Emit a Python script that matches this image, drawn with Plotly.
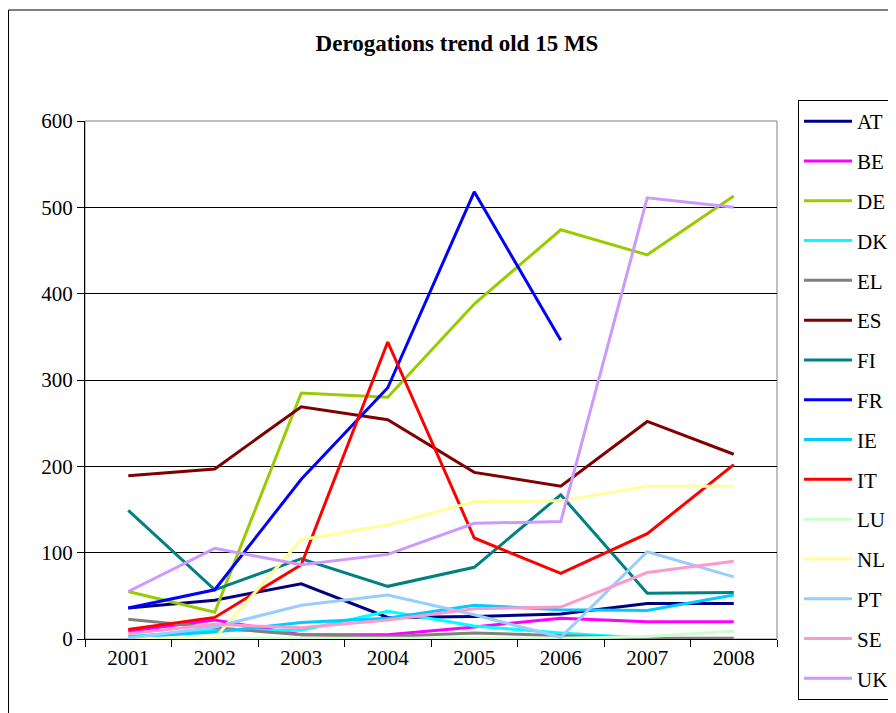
import plotly.graph_objects as go

years = ["2001", "2002", "2003", "2004", "2005", "2006", "2007", "2008"]

AT = [36, 45, 64, 25, 26, 29, 41, 41]
BE = [9, 22, 5, 5, 14, 24, 20, 20]
DE = [55, 31, 285, 280, 388, 474, 445, 513]
DK = [3, 10, 10, 32, 15, 7, 1, 0]
EL = [23, 13, 5, 3, 7, 4, 1, 1]
ES = [189, 197, 269, 254, 193, 177, 252, 214]
FI = [149, 57, 93, 61, 83, 167, 53, 54]
FR = [36, 57, 185, 291, 518, 346, None, None]
IE = [2, 8, 19, 24, 39, 34, 33, 51]
IT = [11, 25, 86, 344, 117, 76, 122, 202]
LU = [1, 1, 1, 1, 1, 1, 3, 9]
NL = [0, 1, 115, 132, 159, 160, 177, 177]
PT = [1, 14, 39, 51, 28, 2, 101, 72]
SE = [6, 17, 13, 22, 35, 37, 77, 90]
UK = [55, 105, 86, 98, 134, 136, 511, 500]

series_names = ["AT", "BE", "DE", "DK", "EL", "ES", "FI", "FR", "IE", "IT", "LU", "NL", "PT", "SE", "UK"]
series_values = [AT, BE, DE, DK, EL, ES, FI, FR, IE, IT, LU, NL, PT, SE, UK]
series_colors = ["#000080", "#FF00FF", "#99CC00", "#00FFFF", "#808080", "#800000", "#008080",
                 "#0000FF", "#00CCFF", "#FF0000", "#CCFFCC", "#FFFF99", "#99CCFF", "#FF99CC", "#CC99FF"]

FONT = "Liberation Serif"

# page body has an 8px margin: figure coords = page coords - 8
L, T, PW, PH = 77, 113, 692, 518

fig = go.Figure()
for name, vals, col in zip(series_names, series_values, series_colors):
    fig.add_trace(go.Scatter(
        x=years, y=vals, name=name, mode="lines",
        line=dict(color=col, width=3), legendgroup=name, connectgaps=False,
    ))

fig.update_layout(
    width=896, height=713,
    margin=dict(l=L, r=896 - L - PW, t=T, b=713 - T - PH, autoexpand=False),
    paper_bgcolor="white", plot_bgcolor="white",
    font=dict(family=FONT, size=20, color="black"),
    title=dict(text="<b>Derogations trend old 15 MS</b>", font=dict(family=FONT, size=23, color="black"),
               x=449 / 896, xref="container", xanchor="center", y=1 - 35 / 713, yref="container", yanchor="middle"),
    showlegend=True,
    legend=dict(
        x=(790 - L) / PW, xanchor="left", y=1 + (T - 92) / PH, yanchor="top",
        bordercolor="black", borderwidth=1, bgcolor="white",
        font=dict(family=FONT, size=21, color="black"),
        tracegroupgap=9.5, itemwidth=48, traceorder="grouped", maxheight=700,
    ),
    xaxis=dict(
        type="category", range=[-0.5, 7.5], tickson="boundaries",
        ticks="outside", ticklen=7, tickcolor="black", tickwidth=1,
        showline=True, linecolor="black", linewidth=1,
        showgrid=False, zeroline=False,
        tickfont=dict(family=FONT, size=21, color="black"),
    ),
    yaxis=dict(
        range=[0, 600], dtick=100, tick0=0,
        ticks="outside", ticklen=7, tickcolor="black", tickwidth=1,
        showline=True, linecolor="black", linewidth=1,
        showgrid=True, gridcolor="black", gridwidth=1,
        zeroline=False,
        tickfont=dict(family=FONT, size=21, color="black"),
    ),
    shapes=[
        dict(type="rect", xref="paper", yref="paper", x0=0, x1=1, y0=0, y1=1,
             line=dict(color="#808080", width=1), layer="below"),
        dict(type="rect", xref="paper", yref="paper",
             x0=(0.5 - L) / PW, x1=1.3, y0=-0.3, y1=1 + (T - 2) / PH,
             line=dict(color="black", width=1), layer="below"),
    ],
)

fig.write_html("out.html")
